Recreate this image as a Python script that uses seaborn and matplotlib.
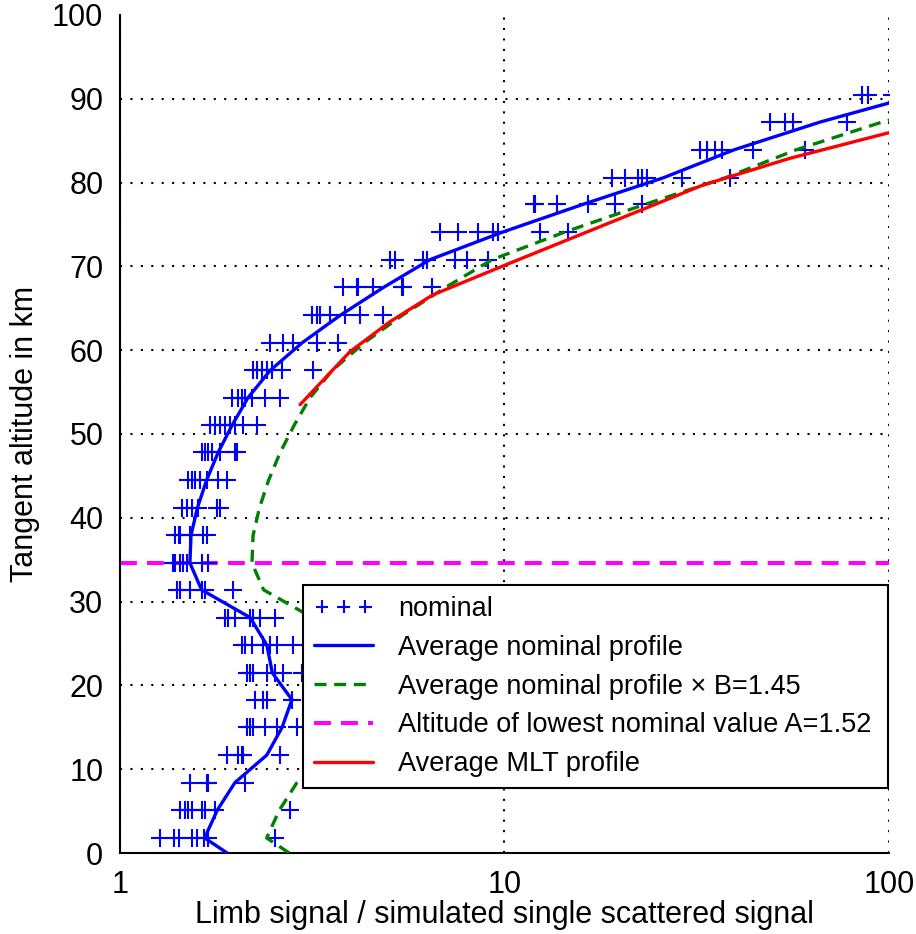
import numpy as np
import matplotlib
matplotlib.use("Agg")
import matplotlib.pyplot as plt
import matplotlib.ticker as mticker
import pandas as pd
import seaborn as sns

# altitude of each row of nominal measurements (km)
row_alt = [1.8, 5.1, 8.4, 11.7, 15.0, 18.3, 21.5, 24.8, 28.1, 31.4, 34.6, 37.9,
           41.2, 44.5, 47.8, 51.1, 54.3, 57.6, 60.9, 64.2, 67.5, 70.8, 74.1,
           77.4, 80.6, 83.9, 87.2, 90.5]

# nominal ratios (limb signal / single scattered signal), one list per row
row_vals = [
    [1.27, 1.38, 1.42, 1.54, 1.59, 1.65, 1.69, 2.53],
    [1.43, 1.48, 1.50, 1.54, 1.63, 1.66, 1.77, 2.77],
    [1.52, 1.68, 1.69, 2.11],
    [1.90, 2.03, 2.08, 2.09, 2.61],
    [2.14, 2.18, 2.22, 2.38, 2.56, 2.89],
    [2.24, 2.36, 2.41, 2.80],
    [2.14, 2.18, 2.22, 2.41, 2.53, 2.65, 2.97],
    [2.08, 2.11, 2.20, 2.36, 2.45, 2.56, 2.82],
    [1.87, 1.91, 1.99, 2.18, 2.22, 2.31, 2.53],
    [1.41, 1.43, 1.52, 1.63, 1.66, 1.97],
    [1.37, 1.39, 1.43, 1.46, 1.49, 1.63, 1.69],
    [1.39, 1.42, 1.43, 1.52, 1.64, 1.68],
    [1.45, 1.49, 1.54, 1.60, 1.79, 1.82],
    [1.50, 1.54, 1.57, 1.61, 1.68, 1.80, 1.90],
    [1.63, 1.66, 1.69, 1.73, 1.82, 1.99, 2.02],
    [1.71, 1.77, 1.82, 1.87, 1.93, 1.99, 2.09, 2.27],
    [1.96, 2.03, 2.08, 2.11, 2.20, 2.38, 2.61],
    [2.22, 2.27, 2.34, 2.41, 2.49, 2.64, 3.18],
    [2.45, 2.65, 2.82, 3.25, 3.69],
    [3.16, 3.25, 3.31, 3.52, 3.85, 4.21, 4.83],
    [3.80, 4.13, 4.16, 4.55, 5.41, 5.45, 6.48],
    [5.04, 5.19, 6.14, 6.29, 7.43, 7.99, 9.06],
    [6.79, 7.57, 8.53, 9.33, 9.62, 12.4, 14.6],
    [11.9, 12.0, 13.7, 16.5, 19.4, 22.8],
    [19.0, 20.6, 22.2, 22.8, 23.5, 28.9, 38.6],
    [32.2, 33.6, 35.3, 36.8, 44.3, 60.5],
    [49.1, 53.7, 56.3, 77.8],
    [85.1, 88.2, 102.0],
]

# average nominal profile
mean_alt = [0.0] + row_alt
mean_val = [1.90, 1.66, 1.79, 1.99, 2.41, 2.64, 2.80, 2.49, 2.41, 2.18, 1.63,
            1.52, 1.53, 1.59, 1.68, 1.80, 1.96, 2.15, 2.46, 2.98, 3.75, 4.85,
            6.4, 9.9, 16.0, 26.0, 39.5, 66.0, 120.0]

B = 1.45            # scaling factor of the average profile
A = 1.52            # lowest nominal value
alt_lowest = 34.6   # altitude of the lowest nominal value

# average MLT profile
mlt_alt = [53.5, 59.8, 63.4, 66.6, 69.9, 79.7, 82.9, 86.0]
mlt_val = [2.94, 3.96, 5.04, 6.51, 9.73, 32.8, 55.3, 101.0]

nominal = pd.DataFrame({
    "alt": [a for a, vals in zip(row_alt, row_vals) for _ in vals],
    "ratio": [v for vals in row_vals for v in vals],
})

sns.set_style("white")
plt.rcParams['font.family'] = ['Liberation Sans', 'DejaVu Sans']
plt.rcParams.update({'text.color': 'black', 'axes.labelcolor': 'black',
                     'xtick.color': 'black', 'ytick.color': 'black'})

fig = plt.figure(figsize=(9.16, 9.34), dpi=100)
ax = fig.add_axes([0.131, 0.0867, 0.8395, 0.8973])

# grid first, under everything
ax.set_xscale('log')
ax.grid(axis='x', which='major', color='black', linestyle=(0, (1, 4)), linewidth=1.5, zorder=0.5)
ax.grid(axis='y', visible=False)
for v in range(10, 100, 10):
    ax.axhline(v, color='black', linestyle=(0, (1, 4)), linewidth=1.5, zorder=0.5)

sns.scatterplot(data=nominal, x='ratio', y='alt', marker='+', s=150, color='#0000ff',
                linewidth=1.5, ax=ax, label='nominal', zorder=3)
ax.axhline(alt_lowest, color='#ff00ff', lw=2.9, linestyle=(0, (4.2, 2.5)), zorder=2,
           label='Altitude of lowest nominal value A=%.2f' % A)
sns.lineplot(x=np.array(mean_val) * B, y=mean_alt, sort=False, estimator=None,
             color='#008000', lw=2.4, linestyle=(0, (3.6, 2.3)), ax=ax,
             label='Average nominal profile \u00d7 B=%.2f' % B, zorder=4)
sns.lineplot(x=mlt_val, y=mlt_alt, sort=False, estimator=None, color='#ff0000',
             lw=2.4, ax=ax, label='Average MLT profile', zorder=4)
sns.lineplot(x=mean_val, y=mean_alt, sort=False, estimator=None, color='#0000ff',
             lw=2.4, ax=ax, label='Average nominal profile', zorder=5)

ax.set_xlim(1, 100)
ax.set_ylim(0, 100)
ax.xaxis.set_major_locator(mticker.FixedLocator([1, 10, 100]))
ax.xaxis.set_major_formatter(mticker.FuncFormatter(lambda v, p: '%g' % v))
ax.xaxis.set_minor_locator(mticker.LogLocator(base=10, subs=range(2, 10)))
ax.xaxis.set_minor_formatter(mticker.NullFormatter())
ax.yaxis.set_major_locator(mticker.MultipleLocator(10))
ax.yaxis.set_minor_locator(mticker.MultipleLocator(2))

ax.tick_params(which='both', direction='in', top=False, right=False, color='black', width=1.3)
ax.tick_params(which='major', length=12, labelsize=22, pad=12)
ax.tick_params(which='minor', length=6)
for side in ['top', 'right']:
    ax.spines[side].set_visible(False)
for side in ['left', 'bottom']:
    ax.spines[side].set_color('black')
    ax.spines[side].set_linewidth(1.5)

ax.set_xlabel('Limb signal / simulated single scattered signal', fontsize=22, labelpad=0)
ax.set_ylabel('Tangent altitude in km', fontsize=22, labelpad=9)

order = ['nominal', 'Average nominal profile',
         'Average nominal profile \u00d7 B=%.2f' % B,
         'Altitude of lowest nominal value A=%.2f' % A,
         'Average MLT profile']
handles, labels = ax.get_legend_handles_labels()
lookup = dict(zip(labels, handles))
leg = ax.legend([lookup[l] for l in order], order, loc='lower left',
                bbox_to_anchor=(0.238, 0.0776, 0.761, 0.244), mode='expand',
                fontsize=19.5, frameon=True, fancybox=False, edgecolor='black',
                framealpha=1, scatterpoints=3, scatteryoffsets=[0.5], markerscale=0.75,
                handlelength=2.2, handletextpad=0.9, borderpad=0.4,
                labelspacing=0.47, borderaxespad=0)
leg.get_frame().set_linewidth(1.5)
leg.set_zorder(10)

fig.savefig('out.png', dpi=100)
